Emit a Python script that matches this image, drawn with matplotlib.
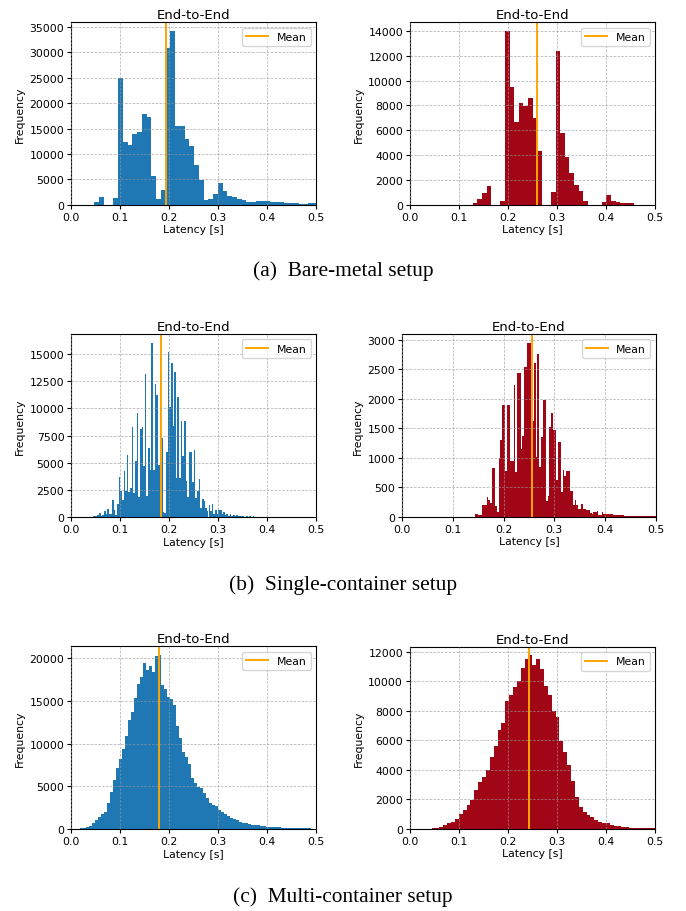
import numpy as np
import matplotlib
matplotlib.use("Agg")
import matplotlib.pyplot as plt

# ---------------- data ----------------
# (a) Bare-metal, left (blue)
bm_left_start, bm_left_width = 0.047, 0.0097
bm_left_counts = [500, 1500, 0, 0, 1300, 25000, 12300, 11700, 13900, 14300,
                  17800, 17300, 5600, 1100, 2900, 30800, 34200, 15500, 15400, 12900,
                  11500, 7900, 4900, 900, 1100, 2100, 4300, 2600, 1700, 1600,
                  1050, 850, 460, 520, 720, 790, 720, 520, 520, 520,
                  390, 330, 330, 200, 200, 390, 330]
bm_left_mean = 0.194

# (a) Bare-metal, right (red)
bm_right_start, bm_right_width = 0.1281, 0.0094
bm_right_counts = [135, 430, 915, 1480, 0, 0, 270, 14000, 9480, 6650,
                   8180, 7970, 8590, 6970, 4310, 0, 0, 1000, 12400, 5770,
                   3820, 2550, 1600, 1130, 260, 0, 0, 0, 240, 780,
                   300, 190, 130, 130, 130]
bm_right_mean = 0.2585

# (b) Single-container, left (blue)
sc_left_start, sc_left_width = 13 / 300, 1 / 300
sc_left_counts = [50, 80, 60, 200, 340, 120, 200, 580, 300, 740,
                  250, 300, 1560, 600, 150, 1170, 3700, 2400, 1600, 4240,
                  2400, 5720, 2300, 2700, 8250, 2250, 5120, 9570, 1850, 8100,
                  8310, 4670, 13150, 1950, 6400, 4310, 16050, 4340, 12250, 11230,
                  4830, 14880, 7230, 460, 400, 5940, 15200, 10100, 14180, 8400,
                  13320, 3630, 11080, 3570, 8860, 5630, 8860, 3320, 1850, 6030,
                  5940, 3200, 6160, 1780, 2400, 3480, 860, 1630, 1480, 860,
                  550, 1120, 550, 1170, 300, 600, 250, 650, 620, 250,
                  500, 150, 300, 120, 250, 100, 200, 80, 150, 60,
                  120, 50, 100, 40, 70, 30, 60, 30, 50, 30,
                  20, 40, 30, 20, 40, 30, 20, 30, 40, 20,
                  30, 20, 30, 20, 20, 30, 20, 20, 15, 15,
                  15, 10, 15, 10, 15, 10, 10, 15, 10, 10,
                  10, 10, 5, 10, 5, 5, 5]
sc_left_mean = 0.184

# (b) Single-container, right (red)
sc_right_start, sc_right_width = 43 / 300, 1 / 300
sc_right_counts = [40, 40, 35, 30, 200, 200, 200, 330, 280, 230,
                   830, 830, 180, 80, 1000, 1300, 1900, 1900, 770, 1900,
                   1900, 950, 950, 2240, 750, 2440, 2440, 1150, 1370, 2530,
                   2530, 2950, 2950, 1620, 1620, 2600, 1020, 2760, 850, 1350,
                   1980, 1980, 270, 350, 1520, 1760, 1470, 1470, 630, 1270,
                   1270, 420, 790, 690, 780, 780, 440, 440, 200, 280,
                   200, 130, 130, 210, 130, 125, 115, 115, 60, 45,
                   85, 85, 100, 35, 35, 75, 50, 50, 40, 40,
                   40, 40, 30, 30, 30, 30, 30, 30, 15, 15,
                   15, 15, 15, 15, 15, 15, 15, 15, 15, 15,
                   5, 5, 5, 5, 5, 5, 5]
sc_right_mean = 0.2565

# (c) Multi-container, left (blue)
mc_left_start, mc_left_width = 0.0110, 0.00612
mc_left_counts = [20, 60, 120,
                  200, 400, 700, 1000, 1350, 1750, 2050, 3000, 4300, 5700,
                  7100, 8200, 9400, 10900, 12730, 13670, 15350, 16950, 17810, 19450,
                  18630, 19100, 18400, 20230, 20390, 16870, 16370, 15510, 15200, 14530,
                  12070, 10660, 9060, 8440, 7580, 5980, 5430, 4960, 4800, 4260,
                  3630, 3010, 2810, 2700, 2200, 2000, 1800, 1550, 1300, 1150,
                  1000, 850, 750, 650, 580, 500, 450, 420, 380, 330,
                  290, 260, 230, 210, 190, 170, 150, 130, 120, 110,
                  100, 90, 80, 70, 60, 55, 50, 45, 40, 40, 35]
mc_left_mean = 0.178

# (c) Multi-container, right (red)
mc_right_start, mc_right_width = 0.0443, 0.0079
mc_right_counts = [20, 50, 100,
                   250, 385, 430, 660, 1000, 1290, 1630, 1950, 2620, 3170,
                   3510, 3980, 4840, 5610, 6670, 7150, 8640, 9100, 9590, 10000,
                   10900, 11540, 11760, 11080, 11540, 10840, 9710, 9100, 7960, 7560,
                   5970, 5200, 4320, 3260, 2130, 1490, 1110, 950, 770, 590,
                   475, 410, 360, 250, 200, 180, 135, 90, 70, 70,
                   70, 45, 30, 30, 20, 15]
mc_right_mean = 0.2435

captions = ["(a)  Bare-metal setup", "(b)  Single-container setup", "(c)  Multi-container setup"]
title = "End-to-End"
xlabel = "Latency [s]"
ylabel = "Frequency"

BLUE = "#1f77b4"
RED = "#a00616"
MEAN_C = "orange"

# ---------------- figure ----------------
W, H = 686, 912
fig = plt.figure(figsize=(W / 100, H / 100), dpi=100)


def px_axes(x0, y0, x1, y1):
    return fig.add_axes([x0 / W, 1 - y1 / H, (x1 - x0) / W, (y1 - y0) / H])


panels = [
    ((71.3, 23.3, 316.3, 205.7), bm_left_start, bm_left_width, bm_left_counts, bm_left_mean, BLUE),
    ((410, 23.3, 655, 205.7), bm_right_start, bm_right_width, bm_right_counts, bm_right_mean, RED),
    ((71.3, 335, 316.3, 518), sc_left_start, sc_left_width, sc_left_counts, sc_left_mean, BLUE),
    ((402.3, 335, 655.7, 517.7), sc_right_start, sc_right_width, sc_right_counts, sc_right_mean, RED),
    ((71.3, 647.3, 316.3, 830), mc_left_start, mc_left_width, mc_left_counts, mc_left_mean, BLUE),
    ((410, 647.7, 655, 829.7), mc_right_start, mc_right_width, mc_right_counts, mc_right_mean, RED),
]

FS = 7.8
for box, start, width, counts, mean, color in panels:
    ax = px_axes(*box)
    counts = np.asarray(counts, dtype=float)
    edges = start + width * np.arange(len(counts) + 1)
    ax.hist(edges[:-1] + width / 2, bins=edges, weights=counts, color=color,
            linewidth=0)
    ax.axvline(mean, color=MEAN_C, linewidth=1.4, label="Mean")
    ax.set_xlim(0, 0.5)
    ax.set_xticks([0.0, 0.1, 0.2, 0.3, 0.4, 0.5])
    ax.set_axisbelow(False)
    ax.grid(True, linestyle=(0, (3, 1.6)), color="#999999", alpha=0.7, linewidth=0.6)
    ax.tick_params(labelsize=FS, length=3, width=0.8, pad=2)
    ax.set_title(title, fontsize=9.5, pad=3)
    ax.set_xlabel(xlabel, fontsize=FS, labelpad=2)
    ax.set_ylabel(ylabel, fontsize=FS, labelpad=3)
    ax.legend(loc="upper right", fontsize=FS, handlelength=2.0, borderpad=0.4,
              handletextpad=0.8)

for cap, y in zip(captions, [271, 585, 897]):
    fig.text(0.5, 1 - y / H, cap, ha="center", va="center",
             fontsize=15.4, family="Liberation Serif")

fig.savefig("out.png", dpi=100)
